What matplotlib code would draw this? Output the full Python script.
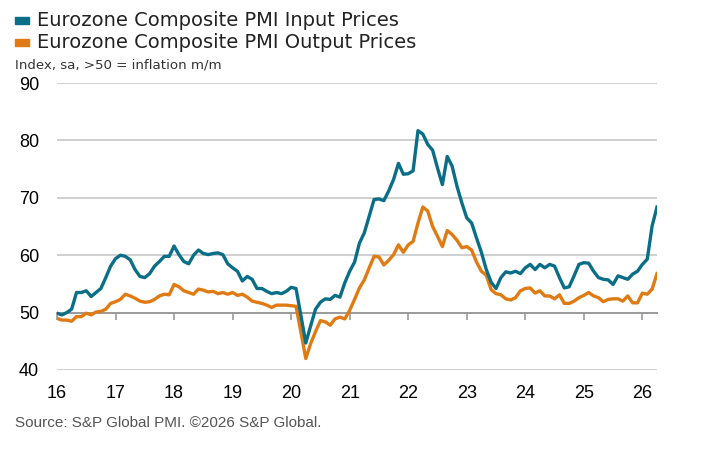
import matplotlib
matplotlib.use("Agg")
import matplotlib.pyplot as plt
from matplotlib.patches import Rectangle
import numpy as np

# ---- data (monthly, Jan 2016 - Apr 2026) ----
input_prices = [
    49.9, 49.6, 50.0, 50.6, 53.5, 53.5, 53.8, 52.8, 53.5, 54.2, 56.1, 58.1,   # 2016
    59.4, 60.0, 59.8, 59.2, 57.5, 56.3, 56.1, 56.8, 58.1, 58.9, 59.8, 59.8,   # 2017
    61.6, 60.1, 58.9, 58.5, 60.0, 60.9, 60.3, 60.1, 60.3, 60.4, 60.1, 58.5,   # 2018
    57.8, 57.2, 55.5, 56.3, 55.8, 54.2, 54.2, 53.7, 53.3, 53.5, 53.3, 53.7,   # 2019
    54.4, 54.2, 49.5, 44.7, 47.7, 50.6, 51.8, 52.4, 52.3, 53.0, 52.7, 55.2,   # 2020
    57.2, 58.8, 62.1, 63.9, 66.8, 69.7, 69.8, 69.5, 71.2, 73.2, 76.0, 74.1,   # 2021
    74.2, 74.7, 81.7, 81.1, 79.3, 78.3, 75.2, 72.3, 77.2, 75.5, 72.0, 69.1,   # 2022
    66.5, 65.6, 63.0, 60.5, 57.5, 55.3, 54.2, 56.1, 57.1, 56.9, 57.2, 56.8,   # 2023
    57.8, 58.4, 57.5, 58.4, 57.8, 58.4, 58.1, 56.1, 54.3, 54.5, 56.4, 58.4,   # 2024
    58.7, 58.6, 57.2, 56.1, 55.8, 55.7, 54.9, 56.4, 56.1, 55.8, 56.7, 57.2,   # 2025
    58.4, 59.3, 65.1, 68.4,                                                   # 2026
]
output_prices = [
    49.0, 48.7, 48.7, 48.5, 49.3, 49.3, 49.9, 49.6, 50.1, 50.2, 50.6, 51.6,   # 2016
    51.9, 52.3, 53.2, 52.9, 52.5, 52.0, 51.8, 51.9, 52.3, 52.9, 53.2, 53.1,   # 2017
    54.9, 54.5, 53.8, 53.5, 53.2, 54.1, 53.9, 53.6, 53.7, 53.3, 53.5, 53.2,   # 2018
    53.5, 53.0, 53.2, 52.7, 52.0, 51.8, 51.6, 51.3, 50.9, 51.3, 51.3, 51.3,   # 2019
    51.2, 51.1, 46.6, 42.0, 44.6, 46.7, 48.6, 48.4, 47.8, 48.9, 49.2, 48.9,   # 2020
    50.4, 52.3, 54.3, 55.7, 57.8, 59.8, 59.7, 58.3, 59.1, 60.1, 61.8, 60.5,   # 2021
    61.8, 62.4, 65.6, 68.4, 67.7, 65.0, 63.3, 61.5, 64.3, 63.6, 62.6, 61.3,   # 2022
    61.5, 60.9, 58.8, 57.2, 56.5, 54.0, 53.3, 53.1, 52.4, 52.2, 52.6, 53.8,   # 2023
    54.2, 54.3, 53.4, 53.8, 52.9, 52.9, 52.4, 53.1, 51.6, 51.6, 52.0, 52.6,   # 2024
    53.0, 53.5, 52.9, 52.6, 51.9, 52.3, 52.4, 52.4, 52.0, 52.9, 51.7, 51.7,   # 2025
    53.4, 53.2, 54.1, 56.8,                                                   # 2026
]
start_year = 2016
years = list(range(2016, 2027))
year_labels = ["16", "17", "18", "19", "20", "21", "22", "23", "24", "25", "26"]
y_ticks = [40, 50, 60, 70, 80, 90]
series_names = ["Eurozone Composite PMI Input Prices",
                "Eurozone Composite PMI Output Prices"]

TEAL = "#0b6e87"
ORANGE = "#e07a12"

x = start_year + np.arange(len(input_prices)) / 12.0

W, H = 708, 458
fig = plt.figure(figsize=(W / 100, H / 100), dpi=100)
ax = fig.add_axes([57 / W, 1 - 370 / H, (657 - 57) / W, (370 - 83) / H])

ax.set_xlim(x[0], x[-1])
ax.set_ylim(40, 90)

for v in y_ticks:
    if v == 50:
        continue
    ax.axhline(v, color="#c8c8c8", lw=1.2, zorder=1)

ax.plot(x, output_prices, color=ORANGE, lw=2.4, zorder=3, solid_joinstyle="round")
ax.plot(x, input_prices, color=TEAL, lw=2.4, zorder=4, solid_joinstyle="round")

for s in ax.spines.values():
    s.set_visible(False)

ax.set_yticks(y_ticks)
ax.set_yticklabels([str(v) for v in y_ticks], family="Liberation Sans", fontsize=13)
ax.tick_params(axis="y", length=0, pad=13)

ax.set_xticks(years)
ax.set_xticklabels(year_labels, family="Liberation Sans", fontsize=13)
ax.tick_params(axis="x", length=0, pad=11)

# axis line at 50 with year tick marks
sec = ax.secondary_xaxis((50 - 40) / (90 - 40))
sec.set_xticks(years)
sec.set_xticklabels([])
sec.tick_params(axis="x", direction="out", length=5, width=1.2, color="#9a9a9a")
sec.spines["bottom"].set_color("#9a9a9a")
sec.spines["bottom"].set_linewidth(1.4)

# legend
for i, (name, col) in enumerate(zip(series_names, [TEAL, ORANGE])):
    yc = 1 - (20.5 + i * 22) / H
    fig.patches.append(Rectangle((15 / W, yc - 3.5 / H), 14 / W, 7 / H,
                                 transform=fig.transFigure, color=col))
    fig.text(37 / W, yc, name, fontsize=14, family="DejaVu Sans",
             va="center", ha="left", color="#222222")

fig.text(15 / W, 1 - 65 / H, "Index, sa, >50 = inflation m/m", fontsize=9.6,
         family="DejaVu Sans", va="center", ha="left", color="#333333")
fig.text(15 / W, 1 - 423 / H, "Source: S&P Global PMI. \u00a92026 S&P Global.",
         fontsize=11, family="Liberation Sans", va="center", ha="left",
         color="#555555")

fig.savefig("out.png", dpi=100)
